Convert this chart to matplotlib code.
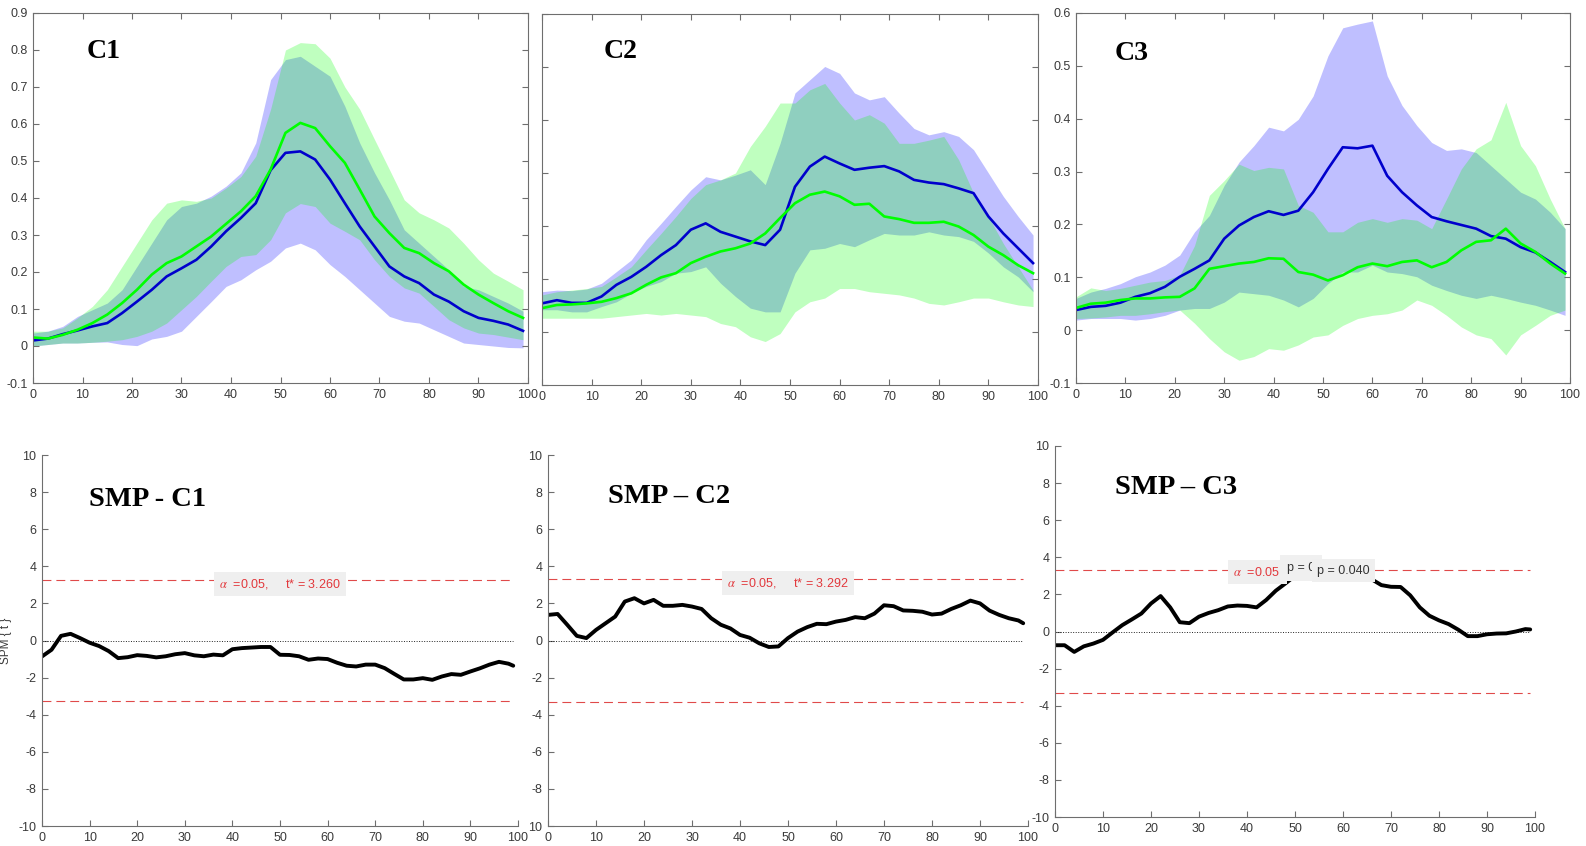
import numpy as np
import matplotlib
matplotlib.use("Agg")
import matplotlib.pyplot as plt

plt.rcParams['font.family'] = ['Liberation Sans', 'DejaVu Sans']
plt.rcParams['mathtext.fontset'] = 'stix'

W, H = 1586, 846

# ---- data ----
x_top = np.arange(0, 100, 3)                 # 0, 3, ..., 99
x_spm = np.append(np.arange(0, 100, 2), 99)  # 0, 2, ..., 98, 99

# C1
c1_blue_mean = [0.015, 0.02, 0.032, 0.042, 0.053, 0.062, 0.089, 0.12, 0.152, 0.188, 0.21, 0.233, 0.269, 0.31, 0.346, 0.386, 0.475,
                0.522, 0.526, 0.504, 0.45, 0.386, 0.323, 0.269, 0.215, 0.188, 0.17, 0.139, 0.12, 0.094, 0.076, 0.068, 0.058, 0.041]
c1_blue_up = [0.035, 0.04, 0.053, 0.08, 0.098, 0.116, 0.152, 0.215, 0.278, 0.341, 0.377, 0.386, 0.405, 0.432, 0.468, 0.549, 0.72,
              0.774, 0.783, 0.756, 0.729, 0.648, 0.549, 0.468, 0.395, 0.314, 0.278, 0.242, 0.206, 0.161, 0.152, 0.134, 0.116, 0.094]
c1_blue_lo = [0.0, 0.004, 0.008, 0.008, 0.01, 0.011, 0.004, 0.001, 0.019, 0.026, 0.04, 0.08, 0.12, 0.161, 0.179, 0.206, 0.229,
              0.265, 0.278, 0.26, 0.22, 0.188, 0.152, 0.116, 0.08, 0.067, 0.062, 0.044, 0.026, 0.008, 0.004, 0.0, -0.004, -0.005]
c1_green_mean = [0.023, 0.02, 0.03, 0.044, 0.062, 0.085, 0.116, 0.152, 0.193, 0.224, 0.242, 0.269, 0.296, 0.33, 0.364, 0.405, 0.477,
                 0.576, 0.603, 0.589, 0.54, 0.495, 0.423, 0.35, 0.305, 0.265, 0.251, 0.224, 0.202, 0.166, 0.139, 0.116, 0.094, 0.076]
c1_green_up = [0.04, 0.04, 0.049, 0.076, 0.107, 0.152, 0.215, 0.278, 0.341, 0.386, 0.395, 0.391, 0.4, 0.427, 0.458, 0.513, 0.64,
               0.8, 0.82, 0.817, 0.778, 0.70, 0.64, 0.558, 0.477, 0.395, 0.36, 0.341, 0.319, 0.278, 0.233, 0.197, 0.175, 0.152]
c1_green_lo = [0.0, 0.004, 0.008, 0.008, 0.01, 0.013, 0.017, 0.026, 0.04, 0.062, 0.098, 0.134, 0.175, 0.215, 0.242, 0.247, 0.287,
               0.36, 0.385, 0.377, 0.332, 0.31, 0.287, 0.233, 0.188, 0.157, 0.143, 0.107, 0.071, 0.049, 0.035, 0.031, 0.024, 0.017]

# C2
c2_blue_mean = [0.054, 0.06, 0.055, 0.055, 0.067, 0.089, 0.104, 0.123, 0.145, 0.164, 0.193, 0.205, 0.189, 0.18, 0.171, 0.164, 0.193,
                0.274, 0.312, 0.331, 0.318, 0.306, 0.31, 0.313, 0.303, 0.287, 0.282, 0.279, 0.271, 0.262, 0.218, 0.186, 0.158, 0.13]
c2_blue_up = [0.076, 0.079, 0.078, 0.081, 0.092, 0.114, 0.136, 0.174, 0.205, 0.237, 0.268, 0.293, 0.287, 0.296, 0.306, 0.278, 0.356,
              0.451, 0.476, 0.501, 0.488, 0.451, 0.438, 0.444, 0.413, 0.384, 0.372, 0.378, 0.369, 0.344, 0.3, 0.256, 0.218, 0.183]
c2_blue_lo = [0.042, 0.042, 0.038, 0.038, 0.048, 0.057, 0.073, 0.086, 0.095, 0.111, 0.114, 0.123, 0.092, 0.067, 0.045, 0.038, 0.038,
              0.111, 0.155, 0.158, 0.167, 0.161, 0.174, 0.186, 0.183, 0.183, 0.189, 0.183, 0.18, 0.171, 0.149, 0.123, 0.104, 0.076]
c2_green_mean = [0.045, 0.051, 0.052, 0.054, 0.057, 0.064, 0.073, 0.089, 0.103, 0.111, 0.13, 0.142, 0.152, 0.158, 0.167, 0.186, 0.215,
                 0.243, 0.259, 0.265, 0.256, 0.24, 0.242, 0.218, 0.213, 0.206, 0.206, 0.208, 0.199, 0.183, 0.161, 0.145, 0.126, 0.111]
c2_green_up = [0.07, 0.076, 0.079, 0.082, 0.086, 0.104, 0.123, 0.155, 0.186, 0.218, 0.252, 0.278, 0.287, 0.3, 0.35, 0.388, 0.432,
               0.432, 0.457, 0.469, 0.432, 0.4, 0.41, 0.394, 0.356, 0.356, 0.362, 0.369, 0.325, 0.262, 0.218, 0.167, 0.123, 0.079]
c2_green_lo = [0.026, 0.026, 0.026, 0.026, 0.026, 0.029, 0.032, 0.035, 0.032, 0.035, 0.032, 0.029, 0.016, 0.01, -0.009, -0.018, -0.003,
               0.038, 0.057, 0.064, 0.082, 0.082, 0.076, 0.073, 0.07, 0.064, 0.054, 0.051, 0.057, 0.064, 0.064, 0.057, 0.051, 0.048]

# C3
c3_blue_mean = [0.038, 0.044, 0.046, 0.052, 0.063, 0.07, 0.082, 0.101, 0.116, 0.132, 0.173, 0.198, 0.214, 0.225, 0.218, 0.226, 0.261,
                0.305, 0.346, 0.344, 0.349, 0.292, 0.261, 0.236, 0.214, 0.206, 0.199, 0.192, 0.178, 0.173, 0.157, 0.147, 0.129, 0.11]
c3_blue_up = [0.06, 0.072, 0.079, 0.088, 0.101, 0.11, 0.123, 0.142, 0.186, 0.217, 0.274, 0.318, 0.349, 0.384, 0.377, 0.399, 0.443,
              0.519, 0.572, 0.579, 0.585, 0.481, 0.425, 0.387, 0.355, 0.34, 0.343, 0.336, 0.311, 0.286, 0.261, 0.248, 0.223, 0.192]
c3_blue_lo = [0.019, 0.022, 0.022, 0.022, 0.019, 0.022, 0.028, 0.038, 0.041, 0.041, 0.053, 0.072, 0.069, 0.066, 0.057, 0.044, 0.06,
              0.088, 0.11, 0.11, 0.123, 0.11, 0.107, 0.101, 0.085, 0.075, 0.066, 0.06, 0.066, 0.06, 0.053, 0.047, 0.038, 0.028]
c3_green_mean = [0.042, 0.05, 0.052, 0.057, 0.06, 0.06, 0.062, 0.063, 0.079, 0.116, 0.121, 0.126, 0.129, 0.136, 0.135, 0.11, 0.105,
                 0.094, 0.104, 0.119, 0.126, 0.121, 0.129, 0.132, 0.119, 0.129, 0.151, 0.167, 0.17, 0.192, 0.164, 0.148, 0.126, 0.107]
c3_green_up = [0.063, 0.08, 0.075, 0.079, 0.085, 0.091, 0.094, 0.104, 0.16, 0.255, 0.283, 0.314, 0.302, 0.308, 0.305, 0.236, 0.223,
               0.186, 0.186, 0.204, 0.211, 0.204, 0.211, 0.208, 0.192, 0.248, 0.305, 0.343, 0.36, 0.431, 0.349, 0.311, 0.248, 0.192]
c3_green_lo = [0.022, 0.023, 0.025, 0.028, 0.028, 0.031, 0.035, 0.038, 0.013, -0.016, -0.041, -0.057, -0.05, -0.035, -0.038, -0.028, -0.013,
               -0.009, 0.009, 0.022, 0.028, 0.031, 0.038, 0.057, 0.047, 0.028, 0.006, -0.009, -0.016, -0.047, -0.009, 0.009, 0.028, 0.038]

# SPM{t} curves
spm_c1 = [-0.86, -0.5, 0.25, 0.36, 0.13, -0.12, -0.3, -0.57, -0.95, -0.9, -0.79, -0.83, -0.91, -0.85, -0.74, -0.68, -0.8,
          -0.85, -0.76, -0.8, -0.47, -0.41, -0.38, -0.35, -0.35, -0.77, -0.78, -0.85, -1.04, -0.97, -1.0, -1.2, -1.36, -1.4,
          -1.3, -1.3, -1.49, -1.8, -2.1, -2.1, -2.03, -2.12, -1.94, -1.81, -1.85, -1.67, -1.5, -1.3, -1.15, -1.25, -1.36]
spm_c2 = [1.38, 1.43, 0.85, 0.25, 0.13, 0.57, 0.93, 1.29, 2.1, 2.28, 2.0, 2.19, 1.87, 1.87, 1.92, 1.83, 1.7,
          1.2, 0.85, 0.65, 0.3, 0.15, -0.15, -0.35, -0.32, 0.13, 0.48, 0.72, 0.9, 0.88, 1.02, 1.11, 1.26, 1.2,
          1.45, 1.9, 1.85, 1.62, 1.6, 1.55, 1.4, 1.45, 1.7, 1.9, 2.15, 2.0, 1.61, 1.38, 1.2, 1.08, 0.93]
spm_c3 = [-0.74, -0.74, -1.1, -0.8, -0.65, -0.45, -0.05, 0.34, 0.65, 0.97, 1.51, 1.91, 1.3, 0.5, 0.45, 0.8, 1.0,
          1.15, 1.35, 1.4, 1.38, 1.3, 1.7, 2.2, 2.59, 3.0, 3.25, 3.4, 3.5, 3.5, 3.4, 3.25, 3.05, 2.81,
          2.5, 2.41, 2.4, 1.95, 1.3, 0.85, 0.6, 0.4, 0.1, -0.25, -0.25, -0.15, -0.11, -0.1, 0.0, 0.13, 0.11]
thresholds = [3.260, 3.292, 3.29]

titles_top = ['C1', 'C2', 'C3']
titles_spm = ['SMP - C1', 'SMP \u2013 C2', 'SMP \u2013 C3']
x_ticks = list(range(0, 101, 10))
c1_yticks = [-0.1, 0, 0.1, 0.2, 0.3, 0.4, 0.5, 0.6, 0.7, 0.8, 0.9]
c23_yticks = [-0.1, 0, 0.1, 0.2, 0.3, 0.4, 0.5, 0.6]
spm_yticks = list(range(-10, 11, 2))

AX_C = '#6e6e6e'
LBL_C = '#3a3a3a'
RED = '#e2383c'

fig = plt.figure(figsize=(W / 100, H / 100), dpi=100)


def px_axes(x0, y0, x1, y1):
    return fig.add_axes([x0 / W, 1 - y1 / H, (x1 - x0) / W, (y1 - y0) / H])


def style(ax, box):
    for s in ax.spines.values():
        s.set_color(AX_C)
        s.set_linewidth(0.8)
    if not box:
        ax.spines['top'].set_visible(False)
        ax.spines['right'].set_visible(False)
    ax.tick_params(direction='in', length=4, width=0.8, color=AX_C, labelcolor=LBL_C,
                   labelsize=9, top=box, right=box)
    ax.tick_params(axis='x', pad=4.5)
    ax.tick_params(axis='y', pad=4)


def fmt(v):
    s = ('%.1f' % v).rstrip('0').rstrip('.')
    return '0' if s in ('0', '-0') else s


# ---- top row: mean +- sd bands ----
top_boxes = [(33, 13, 528, 383), (542, 14, 1038, 385), (1076, 13, 1570, 383)]
top_data = [
    (c1_blue_mean, c1_blue_up, c1_blue_lo, c1_green_mean, c1_green_up, c1_green_lo, c1_yticks),
    (c2_blue_mean, c2_blue_up, c2_blue_lo, c2_green_mean, c2_green_up, c2_green_lo, c23_yticks),
    (c3_blue_mean, c3_blue_up, c3_blue_lo, c3_green_mean, c3_green_up, c3_green_lo, c23_yticks),
]
title_pos_top = [(0.109, 0.878), (0.125, 0.881), (0.079, 0.873)]

for i, (bm, bu, bl, gm, gu, gl, yt) in enumerate(top_data):
    ax = px_axes(*top_boxes[i])
    ax.fill_between(x_top, bl, bu, color=(0, 0, 1), alpha=0.25, lw=0)
    ax.plot(x_top, bm, color=(0, 0, 0.8), lw=1.9)
    ax.fill_between(x_top, gl, gu, color=(0, 1, 0), alpha=0.25, lw=0)
    ax.plot(x_top, gm, color=(0, 1, 0), lw=1.9)
    ax.set_xlim(0, 100)
    ax.set_ylim(yt[0], yt[-1])
    ax.set_xticks(x_ticks)
    ax.set_yticks(yt)
    if i == 1:
        ax.set_yticklabels([])
    else:
        ax.set_yticklabels([fmt(v) for v in yt])
    style(ax, True)
    tx, ty = title_pos_top[i]
    ax.text(tx, ty, titles_top[i], transform=ax.transAxes, fontsize=20, fontweight='bold',
            family=['Liberation Serif', 'DejaVu Serif'], ha='left', va='baseline')

# ---- bottom row: SPM{t} ----
spm_boxes = [(42, 455, 518, 826), (548, 455, 1028, 826), (1055, 446, 1535, 817)]
spm_curves = [spm_c1, spm_c2, spm_c3]
title_pos_spm = [(0.099, 0.863), (0.125, 0.871), (0.125, 0.871)]

for i, curve in enumerate(spm_curves):
    ax = px_axes(*spm_boxes[i])
    thr = thresholds[i]
    ax.hlines([thr, -thr], 0, 99, colors='#e04a4a', lw=0.8, linestyles=[(0, (8, 4.5))])
    ax.hlines(0, 0, 99, colors='#222222', lw=0.7, linestyles=[(0, (1, 1.6))])
    ax.plot(x_spm, curve, color='black', lw=2.8, solid_capstyle='round', zorder=2.5)
    ax.set_xlim(0, 100)
    ax.set_ylim(-10, 10)
    ax.set_xticks(x_ticks)
    ax.set_yticks(spm_yticks)
    labels = [str(v) for v in spm_yticks]
    if i == 1:
        labels[0] = '10'
    ax.set_yticklabels(labels)
    style(ax, False)
    tx, ty = title_pos_spm[i]
    ax.text(tx, ty, titles_spm[i], transform=ax.transAxes, fontsize=20.5, fontweight='bold',
            family=['Liberation Serif', 'DejaVu Serif'], ha='left', va='baseline')
    if i < 2:
        ax.text(50, thr - 0.2, r'$\alpha$  =0.05,     t* = %.3f' % thr, ha='center', va='center',
                color=RED, fontsize=9, zorder=5,
                bbox=dict(facecolor='#efefef', edgecolor='none', pad=3.5))
    else:
        ax.text(37, 3.2, r'$\alpha$  =0.05,', ha='left', va='center', color=RED, fontsize=9, zorder=5,
                bbox=dict(facecolor='#efefef', edgecolor='none', pad=3.5))
        ax.text(48.3, 3.42, 'p = 0', ha='left', va='center', color='#333333', fontsize=9, zorder=6,
                bbox=dict(facecolor='#f0f0f0', edgecolor='none', pad=5))
        ax.text(54.6, 3.28, 'p = 0.040', ha='left', va='center', color='#333333', fontsize=9, zorder=7,
                bbox=dict(facecolor='#efefef', edgecolor='none', pad=4))
    if i == 0:
        ax.set_ylabel('SPM { t }', fontsize=8.5, color=LBL_C)
        ax.yaxis.set_label_coords(-0.063, 0.5)

fig.savefig('out.png', dpi=100)
